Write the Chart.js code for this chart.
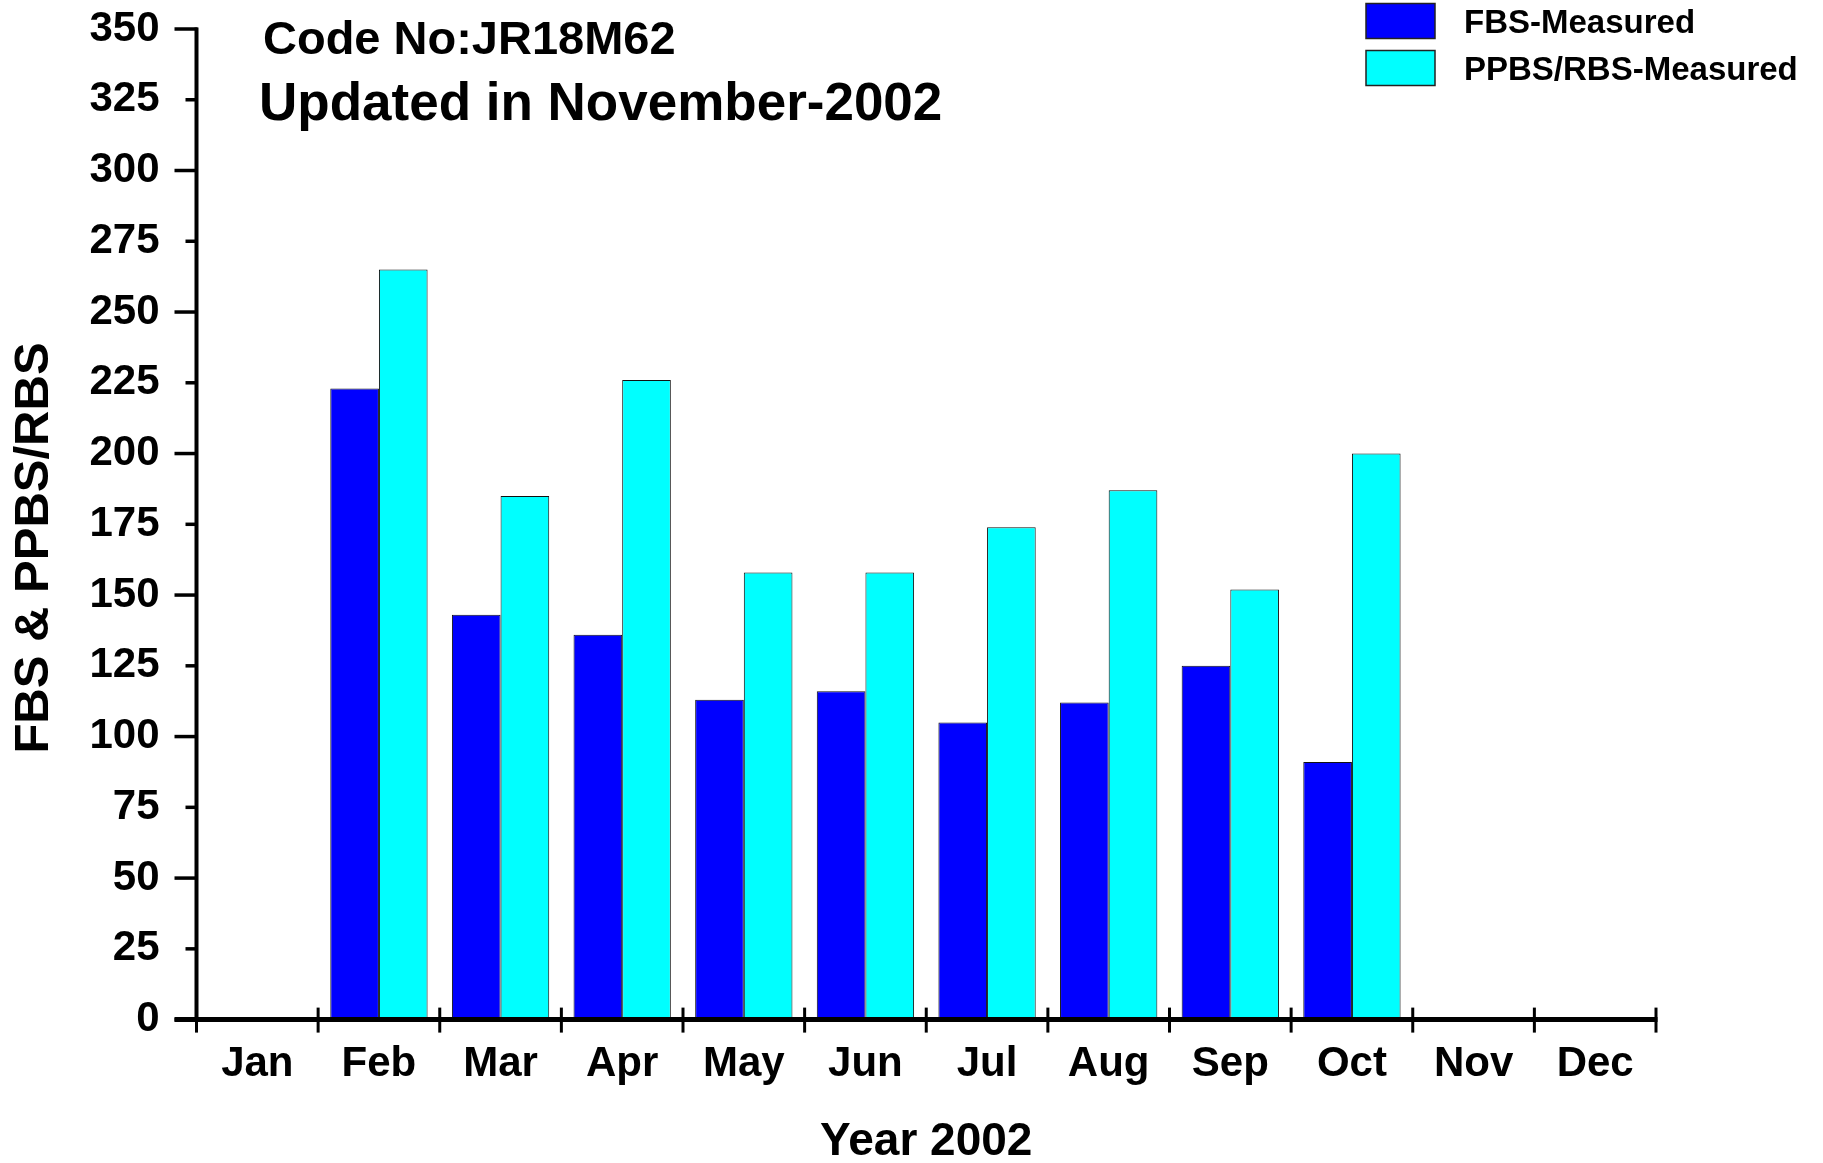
<!DOCTYPE html>
<html><head><meta charset="utf-8">
<script src="https://cdn.jsdelivr.net/npm/chart.js@4.4.1/dist/chart.umd.min.js"></script>
<style>html,body{margin:0;padding:0;background:#fff;overflow:hidden}#wrap{width:1823px;height:1163px}</style>
</head><body><div id="wrap"><canvas id="c" width="1823" height="1163"></canvas></div>
<script>
const months = ['Jan','Feb','Mar','Apr','May','Jun','Jul','Aug','Sep','Oct','Nov','Dec'];
const fbsValues = [null,223,143,136,113,116,105,112,125,91,null,null];
const ppbsValues = [null,265,185,226,158,158,174,187,152,200,null,null];
const yMin = 0, yMax = 350, yStep = 25;
const seriesLabels = ['FBS-Measured','PPBS/RBS-Measured'];
const seriesColors = ['#0000FF','#00FFFF'];
const codeText = 'Code No:JR18M62';
const updatedText = 'Updated in November-2002';
const xTitle = 'Year 2002';
const yTitle = 'FBS & PPBS/RBS';

const FONT = "'Liberation Sans', Arial, sans-serif";

const decor = {
  id: 'decor',
  afterDatasetsDraw(chart) {
    const ctx = chart.ctx, ca = chart.chartArea;
    const xs = chart.scales.x, ys = chart.scales.y;
    const y0 = ys.getPixelForValue(0), yTop = ys.getPixelForValue(yMax);
    ctx.save();
    ctx.strokeStyle = '#000';
    ctx.lineCap = 'butt';
    // y axis line
    ctx.lineWidth = 4;
    ctx.beginPath(); ctx.moveTo(ca.left, yTop - 1.5); ctx.lineTo(ca.left, y0); ctx.stroke();
    // y ticks
    ctx.lineWidth = 3.5;
    ys.ticks.forEach(t => {
      const py = ys.getPixelForValue(t.value);
      const len = (t.value % 50 === 0) ? 22 : 11;
      ctx.beginPath(); ctx.moveTo(ca.left - len, py); ctx.lineTo(ca.left + 1, py); ctx.stroke();
    });
    // x axis line
    ctx.lineWidth = 5;
    ctx.beginPath(); ctx.moveTo(ca.left - 22, y0); ctx.lineTo(ca.right + 1.5, y0); ctx.stroke();
    // x ticks at category boundaries
    ctx.lineWidth = 3;
    const half = (xs.getPixelForValue(1) - xs.getPixelForValue(0)) / 2;
    for (let i = 0; i <= months.length; i++) {
      const px = i < months.length ? xs.getPixelForValue(i) - half : xs.getPixelForValue(months.length - 1) + half;
      ctx.beginPath(); ctx.moveTo(px, y0 - 12); ctx.lineTo(px, y0 + 13); ctx.stroke();
    }
    // annotation texts
    ctx.fillStyle = '#000';
    ctx.textAlign = 'left';
    ctx.textBaseline = 'alphabetic';
    ctx.font = 'bold 47px ' + FONT;
    ctx.fillText(codeText, 263, 54);
    ctx.font = 'bold 53px ' + FONT;
    ctx.fillText(updatedText, 259, 120);
    // x title
    ctx.textAlign = 'center';
    ctx.font = 'bold 46px ' + FONT;
    ctx.fillText(xTitle, (ca.left + ca.right) / 2, 1155);
    // y title
    ctx.save();
    ctx.translate(48, 548);
    ctx.rotate(-Math.PI / 2);
    ctx.textAlign = 'center';
    ctx.font = 'bold 49px ' + FONT;
    ctx.fillText(yTitle, 0, 0);
    ctx.restore();
    // legend
    ctx.textAlign = 'left';
    ctx.font = 'bold 33px ' + FONT;
    ctx.textBaseline = 'middle';
    chart.data.datasets.forEach((ds, i) => {
      const cy = 21 + i * 47;
      ctx.fillStyle = ds.backgroundColor;
      ctx.fillRect(1366, cy - 17.5, 69, 35);
      ctx.lineWidth = 1.5;
      ctx.strokeStyle = '#222';
      ctx.strokeRect(1366, cy - 17.5, 69, 35);
      ctx.fillStyle = '#000';
      ctx.fillText(ds.label, 1464, cy + 3);
    });
    ctx.restore();
  }
};

new Chart(document.getElementById('c'), {
  type: 'bar',
  data: {
    labels: months,
    datasets: [
      { label: seriesLabels[0], data: fbsValues, backgroundColor: seriesColors[0], borderColor: '#111', borderWidth: 1 },
      { label: seriesLabels[1], data: ppbsValues, backgroundColor: seriesColors[1], borderColor: '#111', borderWidth: 1 }
    ]
  },
  options: {
    responsive: false,
    animation: false,
    devicePixelRatio: 1,
    layout: { padding: { left: 0, top: 29, right: 167, bottom: 0 } },
    plugins: { legend: { display: false }, tooltip: { enabled: false }, title: { display: false } },
    datasets: { bar: { categoryPercentage: 0.8, barPercentage: 1.0 } },
    scales: {
      x: {
        type: 'category',
        offset: true,
        grid: { display: false, drawTicks: false },
        border: { display: false },
        ticks: { color: '#000', font: { family: FONT, size: 42, weight: 'bold' }, padding: 20, maxRotation: 0, autoSkip: false },
        afterFit: s => { s.height = 143.4; s.paddingLeft = 0; s.paddingRight = 0; }
      },
      y: {
        min: yMin, max: yMax,
        grid: { display: false, drawTicks: false },
        border: { display: false },
        ticks: { stepSize: yStep, color: '#000', font: { family: FONT, size: 42, weight: 'bold' }, padding: 37 },
        afterFit: s => { s.width = 196.5; s.paddingTop = 0; s.paddingBottom = 0; }
      }
    }
  },
  plugins: [decor]
});
</script></body></html>
